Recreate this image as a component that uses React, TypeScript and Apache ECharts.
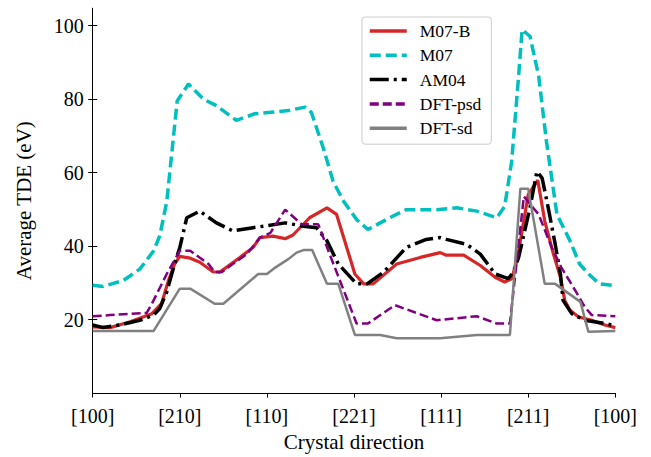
import React, { useEffect, useRef } from "react";
import * as echarts from "echarts";

const dirLabels = ["[100]", "[210]", "[110]", "[221]", "[111]", "[211]", "[100]"];
const yTicks = [20, 40, 60, 80, 100];
const xTicks = [0, 1, 2, 3, 4, 5, 6];

const m07bX = [0, 0.2, 0.43, 0.68, 0.79, 0.87, 0.94, 1.0, 1.12, 1.23, 1.38, 1.46, 1.69, 1.84, 1.92, 2.07, 2.21, 2.3, 2.49, 2.69, 2.8, 3.01, 3.11, 3.22, 3.49, 3.76, 3.99, 4.06, 4.26, 4.45, 4.62, 4.73, 4.81, 4.87, 4.93, 5.0, 5.11, 5.19, 5.29, 5.37, 5.42, 5.48, 5.58, 5.73, 5.88, 6];
const m07bY = [18.0, 17.8, 19.4, 21.6, 24.3, 30.6, 35.1, 37.2, 36.7, 35.6, 33.0, 32.9, 36.9, 39.6, 42.3, 42.7, 42.0, 43.0, 47.7, 50.4, 48.6, 32.4, 29.7, 29.7, 35.1, 36.9, 38.2, 37.5, 37.5, 34.7, 31.5, 30.2, 31.1, 36.0, 44.1, 54.0, 57.9, 46.8, 37.8, 31.5, 25.2, 22.5, 20.7, 19.8, 18.5, 17.8];

const m07X = [0, 0.12, 0.35, 0.54, 0.7, 0.77, 0.85, 0.97, 1.1, 1.27, 1.42, 1.65, 1.86, 2.04, 2.25, 2.44, 2.51, 2.65, 2.76, 2.88, 3.03, 3.16, 3.41, 3.6, 3.95, 4.18, 4.41, 4.64, 4.73, 4.81, 4.89, 4.93, 5.02, 5.12, 5.21, 5.33, 5.48, 5.59, 5.71, 5.82, 5.96, 6];
const m07Y = [29.3, 29.0, 30.6, 33.7, 38.7, 42.8, 52.0, 79.5, 84.1, 80.0, 78.2, 74.2, 76.0, 76.4, 76.9, 77.8, 76.4, 66.5, 57.6, 52.2, 47.2, 44.5, 47.7, 49.9, 49.9, 50.4, 49.5, 47.7, 50.8, 63.0, 86.3, 98.9, 97.1, 86.3, 68.4, 48.6, 41.4, 35.1, 32.0, 29.7, 29.3, 29.3];

const am04X = [0, 0.12, 0.31, 0.54, 0.7, 0.77, 0.85, 0.94, 1.0, 1.08, 1.23, 1.42, 1.61, 1.84, 1.96, 2.21, 2.42, 2.57, 2.69, 2.82, 3.03, 3.15, 3.34, 3.6, 3.83, 3.99, 4.06, 4.29, 4.45, 4.62, 4.77, 4.83, 4.89, 4.96, 5.02, 5.1, 5.16, 5.23, 5.31, 5.37, 5.4, 5.5, 5.65, 5.88, 6];
const am04Y = [18.5, 17.8, 18.5, 19.8, 21.2, 23.0, 27.5, 35.1, 39.6, 47.7, 49.5, 46.3, 44.1, 45.0, 45.4, 46.3, 45.4, 45.0, 41.4, 35.1, 29.7, 29.7, 32.9, 39.6, 41.8, 42.3, 41.8, 40.5, 37.8, 32.4, 31.1, 32.9, 36.9, 44.1, 50.4, 60.3, 58.5, 50.4, 40.5, 32.4, 25.2, 21.6, 19.8, 18.9, 18.3];

const psdX = [0, 0.2, 0.62, 0.68, 0.85, 1.0, 1.12, 1.33, 1.4, 1.48, 1.77, 1.92, 2.04, 2.21, 2.4, 2.59, 2.72, 3.03, 3.16, 3.47, 3.95, 4.41, 4.64, 4.79, 4.95, 5.12, 5.27, 5.38, 5.54, 5.65, 5.73, 6];
const psdY = [20.9, 21.2, 21.8, 24.3, 32.4, 38.7, 38.7, 35.1, 32.9, 32.9, 37.8, 42.3, 43.6, 49.9, 45.9, 45.9, 37.8, 18.9, 18.9, 23.9, 19.8, 20.9, 18.9, 18.9, 53.5, 48.6, 39.6, 34.2, 27.9, 23.4, 21.2, 20.9];

const sdX = [0, 0.7, 1.0, 1.12, 1.4, 1.5, 1.9, 2.0, 2.1, 2.25, 2.34, 2.42, 2.52, 2.69, 2.82, 3.01, 3.3, 3.49, 3.99, 4.41, 4.79, 4.91, 5.0, 5.19, 5.31, 5.6, 5.69, 6];
const sdY = [16.9, 16.9, 28.4, 28.4, 24.3, 24.3, 32.4, 32.4, 34.2, 36.5, 38.2, 38.9, 38.9, 29.7, 29.7, 15.8, 15.8, 14.9, 14.9, 15.8, 15.8, 55.6, 55.6, 29.7, 29.7, 24.8, 16.7, 16.9];

const pts = (xs: number[], ys: number[]) => xs.map((x, i) => [x, ys[i]]);

const FONT = "Liberation Serif";

export default function App() {
  const ref = useRef<HTMLDivElement>(null);
  useEffect(() => {
    if (!ref.current) return;
    const chart = echarts.init(ref.current, undefined, { renderer: "svg" });
    const axisLine = { show: true, lineStyle: { color: "#000", width: 1 } };
    chart.setOption({
      animation: false,
      backgroundColor: "#fff",
      textStyle: { fontFamily: FONT },
      grid: { left: 92.7, right: 35.7, top: 8.3, bottom: 60.3 },
      legend: {
        orient: "vertical",
        left: 362,
        top: 17,
        itemWidth: 37,
        itemHeight: 14,
        itemGap: 4.3,
        padding: [4, 10, 6, 6],
        backgroundColor: "rgba(255,255,255,0.8)",
        borderColor: "#cccccc",
        borderWidth: 1,
        borderRadius: 3,
        itemStyle: { opacity: 0 },
        lineStyle: { width: 3.5 },
        textStyle: { fontFamily: FONT, fontSize: 17.5, color: "#000", lineHeight: 20, padding: [0, 0, 0, 8] },
        data: ["M07-B", "M07", "AM04", "DFT-psd", "DFT-sd"],
      },
      xAxis: [
        {
          type: "value",
          min: 0,
          max: 6,
          axisLine,
          splitLine: { show: false },
          axisTick: { show: true, inside: false, length: 4.5, lineStyle: { color: "#000" }, customValues: xTicks },
          axisLabel: {
            customValues: xTicks,
            formatter: (v: number) => dirLabels[Math.round(v)] ?? "",
            fontFamily: FONT,
            fontSize: 20,
            color: "#000",
            margin: 13,
          },
          name: "Crystal direction",
          nameLocation: "middle",
          nameGap: 38,
          nameTextStyle: { fontFamily: FONT, fontSize: 21, color: "#000" },
        },
        {
          type: "value",
          position: "top",
          min: 0,
          max: 6,
          axisLine,
          splitLine: { show: false },
          axisTick: { show: false },
          axisLabel: { show: false },
        },
      ],
      yAxis: [
        {
          type: "value",
          min: 0,
          max: 104.7,
          axisLine,
          splitLine: { show: false },
          axisTick: { show: true, inside: false, length: 4.5, lineStyle: { color: "#000" }, customValues: yTicks },
          axisLabel: { customValues: yTicks, fontFamily: FONT, fontSize: 20, color: "#000", margin: 9 },
          name: "Average TDE (eV)",
          nameLocation: "middle",
          nameGap: 58,
          nameTextStyle: { fontFamily: FONT, fontSize: 21, color: "#000" },
        },
        {
          type: "value",
          position: "right",
          min: 0,
          max: 104.7,
          axisLine,
          splitLine: { show: false },
          axisTick: { show: true, inside: false, length: 4.5, lineStyle: { color: "#000" }, customValues: yTicks },
          axisLabel: { show: false },
        },
      ],
      series: [
        {
          name: "M07-B",
          type: "line",
          data: pts(m07bX, m07bY),
          symbol: "none",
          lineStyle: { color: "#d62728", width: 3.2 },
          itemStyle: { color: "#d62728" },
        },
        {
          name: "M07",
          type: "line",
          data: pts(m07X, m07Y),
          symbol: "none",
          lineStyle: { color: "#00bfbf", width: 3.5, type: [11, 5] },
          itemStyle: { color: "#00bfbf" },
        },
        {
          name: "AM04",
          type: "line",
          data: pts(am04X, am04Y),
          symbol: "none",
          lineStyle: { color: "#000000", width: 3.5, type: [19, 5, 3, 5] },
          itemStyle: { color: "#000000" },
        },
        {
          name: "DFT-psd",
          type: "line",
          data: pts(psdX, psdY),
          symbol: "none",
          lineStyle: { color: "#800080", width: 2.5, type: [9, 4] },
          itemStyle: { color: "#800080" },
        },
        {
          name: "DFT-sd",
          type: "line",
          data: pts(sdX, sdY),
          symbol: "none",
          lineStyle: { color: "#808080", width: 2.5 },
          itemStyle: { color: "#808080" },
        },
      ],
    });
    return () => chart.dispose();
  }, []);
  return <div ref={ref} style={{ position: "fixed", left: 0, top: 0, width: 651, height: 457 }} />;
}
